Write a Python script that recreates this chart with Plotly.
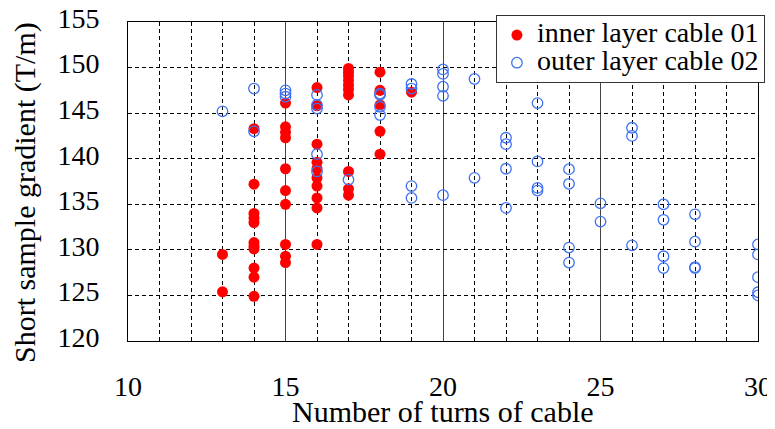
import plotly.graph_objects as go

# inner layer cable 01 (red)
inner_x = [13, 13,
           14, 14, 14, 14, 14, 14, 14, 14, 14, 14, 14,
           15, 15, 15, 15, 15, 15, 15, 15, 15, 15,
           16, 16, 16, 16, 16, 16, 16, 16, 16, 16,
           17, 17, 17, 17, 17, 17, 17, 17, 17, 17,
           18, 18, 18, 18, 18,
           19]
inner_y = [129.5, 125.4,
           143.3, 137.2, 134.0, 133.5, 133.0, 130.8, 130.4, 130.1, 128.0, 127.0, 124.9,
           146.1, 143.5, 142.9, 142.3, 138.9, 136.5, 135.0, 130.6, 129.3, 128.6,
           147.8, 145.8, 141.6, 139.6, 138.9, 137.9, 137.0, 135.7, 134.6, 130.6,
           149.9, 149.5, 149.1, 148.6, 148.1, 147.6, 147.0, 138.6, 136.7, 136.0,
           149.5, 147.5, 145.9, 143.0, 140.5,
           147.3]

# outer layer cable 02 (blue)
outer_x = [13, 14, 14, 15, 15, 15,
           16, 16, 16, 16, 16, 17,
           18, 18, 18, 18,
           19, 19, 19, 19,
           20, 20, 20, 20, 20,
           21, 21, 22, 22, 22, 22,
           23, 23, 23, 23,
           24, 24, 24, 24, 25, 25,
           26, 26, 26, 27, 27, 27, 27,
           28, 28, 28, 28,
           30, 30, 30, 30, 30]
outer_y = [145.2, 147.7, 143.0, 147.5, 147.15, 146.8,
           147.0, 145.9, 145.5, 140.5, 138.6, 137.7,
           147.15, 147.0, 145.7, 144.8,
           148.2, 147.7, 137.0, 135.7,
           149.8, 149.3, 147.9, 146.9, 136.0,
           148.75, 137.9, 142.3, 141.6, 138.9, 134.6,
           146.1, 139.7, 136.8, 136.5,
           138.85, 137.25, 130.25, 128.6, 135.1, 133.1,
           143.4, 142.5, 130.5, 135.0, 133.3, 129.3, 128.0,
           133.9, 130.9, 128.1, 128.0,
           130.6, 129.5, 127.0, 125.35, 125.0]

x_ticks = [10, 15, 20, 25, 30]
y_ticks = [120, 125, 130, 135, 140, 145, 150, 155]

series_names = ["inner layer cable 01", "outer layer cable 02"]
x_title = "Number of turns of cable"
y_title = "Short sample gradient (T/m)"

FONT = "Liberation Serif"
LEG_TXT = '<span style="font-size:28px">{}</span>'

fig = go.Figure()
fig.add_trace(go.Scatter(
    x=inner_x, y=inner_y, mode="markers", name=LEG_TXT.format(series_names[0]),
    marker=dict(color="#ff0000", size=11, line=dict(width=0)),
))
fig.add_trace(go.Scatter(
    x=outer_x, y=outer_y, mode="markers", name=LEG_TXT.format(series_names[1]),
    marker=dict(color="rgba(255,255,255,0)", size=10.5,
                line=dict(color="#3f72f2", width=1.3)),
))

fig.update_layout(
    width=767, height=421,
    margin=dict(l=120, r=17, t=7, b=87.5),
    paper_bgcolor="white", plot_bgcolor="white",
    font=dict(family=FONT, size=28, color="black"),
    showlegend=True,
    legend=dict(
        x=1.011, y=1.0214, xanchor="right", yanchor="top",
        bgcolor="white", bordercolor="#333", borderwidth=1,
        font=dict(family=FONT, size=19, color="black"),
        tracegroupgap=0, itemsizing="trace",
    ),
    xaxis=dict(
        range=[10, 30], tickvals=x_ticks, ticktext=[str(v) for v in x_ticks],
        showgrid=True, gridcolor="#444", gridwidth=1,
        minor=dict(dtick=1, showgrid=True, gridcolor="black", griddash="4px,3px", gridwidth=1),
        showline=True, linecolor="black", linewidth=1, mirror=True,
        ticks="", ticklabelstandoff=20, zeroline=False, automargin=False,
        ticklabeloverflow="allow",
        tickfont=dict(family=FONT, size=28),
    ),
    yaxis=dict(
        range=[120, 155], tickvals=y_ticks, ticktext=[str(v) for v in y_ticks],
        showgrid=True, gridcolor="black", griddash="4px,3px", gridwidth=1,
        showline=True, linecolor="black", linewidth=1, mirror=True,
        ticks="outside", ticklen=22, tickcolor="rgba(0,0,0,0)",
        ticklabelshift=-4, ticklabeloverflow="allow",
        zeroline=False, automargin=False,
        tickfont=dict(family=FONT, size=28),
    ),
    annotations=[
        dict(text=x_title, xref="paper", yref="paper", x=0.5, y=-0.2221,
             xanchor="center", yanchor="middle", showarrow=False,
             font=dict(family=FONT, size=30, color="black")),
        dict(text=y_title, xref="paper", yref="paper", x=-0.1635, y=0.467,
             xanchor="center", yanchor="middle", showarrow=False, textangle=-90,
             font=dict(family=FONT, size=30, color="black")),
    ],
)

fig.write_html("out.html")
